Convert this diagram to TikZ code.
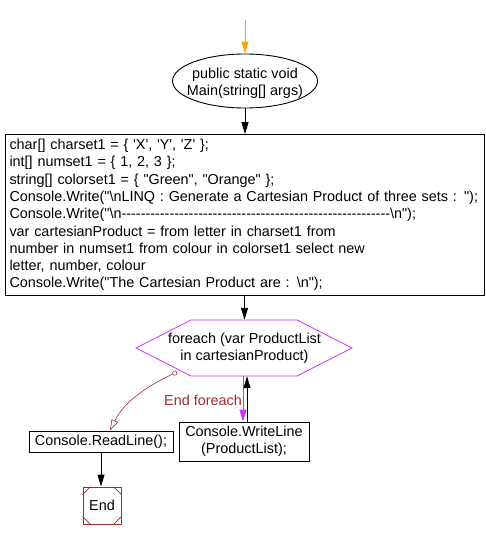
\documentclass[tikz,border=0pt]{standalone}
\usepackage{fontspec}
\newfontfamily\flowfont{Liberation Sans}
\usetikzlibrary{shapes.geometric,arrows.meta,calc}
\definecolor{loopc}{RGB}{204,51,255}
\definecolor{endc}{RGB}{165,42,42}
\definecolor{startc}{RGB}{255,165,0}

\begin{document}
\begin{tikzpicture}[x=1pt,y=-1pt]
\tikzstyle{txt}=[font=\flowfont\fontsize{14.4}{17.3}\selectfont, inner sep=0pt];
\tikzstyle{box}=[txt, draw=black, line width=0.9pt, rectangle];
\tikzstyle{flow}=[draw=black, line width=0.9pt, -{Triangle[length=12pt,width=7pt]}];

\useasboundingbox (0,0) rectangle (486,540);

\coordinate (top) at (245,20);
\node[ellipse, draw, line width=0.9pt, minimum width=145, minimum height=54, inner sep=0pt,
      label={[txt,align=center,yshift=-2pt]center:public static void\\Main(string[] args)}] (main) at (245,81) {};

\node[box, text width=470, align=left, minimum width=479, minimum height=160, inner sep=4.5pt] (code) at (244.5,215)
  {char[] charset1 = \{ 'X', 'Y', 'Z' \};\\
   int[] numset1 = \{ 1, 2, 3 \};\\
   string[] colorset1 = \{ "Green", "Orange" \};\\
   Console.Write("\textbackslash nLINQ : Generate a Cartesian Product of three sets : ");\\
   Console.Write("\textbackslash n--------------------------------------------------------\textbackslash n");\\
   var cartesianProduct = from letter in charset1 from\\
   number in numset1 from colour in colorset1 select new\\
   letter, number, colour\\
   Console.Write("The Cartesian Product are : \textbackslash n");};

\node[txt, align=center, minimum width=106, minimum height=56] (loop) at (244.5,348)
  {foreach (var ProductList\\in cartesianProduct)};
\draw[loopc, line width=0.8pt] ($(loop)+(-108.5,0)$) -- ++(55,-28) -- ++(106,0) -- ++(55,28)
  -- ++(-55,28) -- ++(-106,0) -- cycle;

\node[box, align=center, minimum width=130, minimum height=39] (write) at (244,441.5)
  {Console.WriteLine\\(ProductList);};
\node[box, minimum width=144, minimum height=21] (read) at (101,441.5) {Console.ReadLine();};
\node[txt, draw=endc, line width=0.9pt, minimum width=38, minimum height=37] (stop) at (102,505.5) {End};
\draw[endc, line width=0.8pt] ([xshift=8]stop.north west) -- ([yshift=-8]stop.north west)
  ([xshift=-8]stop.north east) -- ([yshift=-8]stop.north east)
  ([xshift=8]stop.south west) -- ([yshift=8]stop.south west)
  ([xshift=-8]stop.south east) -- ([yshift=8]stop.south east);

\coordinate (ef) at (177,372);
\node[txt, text=endc] (efl) at (203,400) {End foreach};

\draw[startc, line width=1pt, -{Triangle[length=12pt,width=7pt]}] (top) -- (main.north);
\draw[flow] (main.south) -- (main.south |- code.north);
\draw[flow] (code.south -| loop.north) -- (loop.north);
\draw[loopc, line width=0.9pt, -{Triangle[length=12pt,width=7pt]}] ([xshift=-1.5]loop.south) -- ([xshift=-1.5]loop.south |- write.north);
\draw[flow] ([xshift=2.5]loop.south |- write.north) -- ([xshift=2.5]loop.south);
\draw[endc, line width=0.6pt, {Circle[open,length=5pt,width=5pt]}-{Triangle[open,length=11pt,width=7pt]}]
  (ef) .. controls (150,385) and (125,400) .. ([xshift=9]read.north);
\draw[flow] (read.south) -- (read.south |- stop.north);
\end{tikzpicture}
\end{document}
